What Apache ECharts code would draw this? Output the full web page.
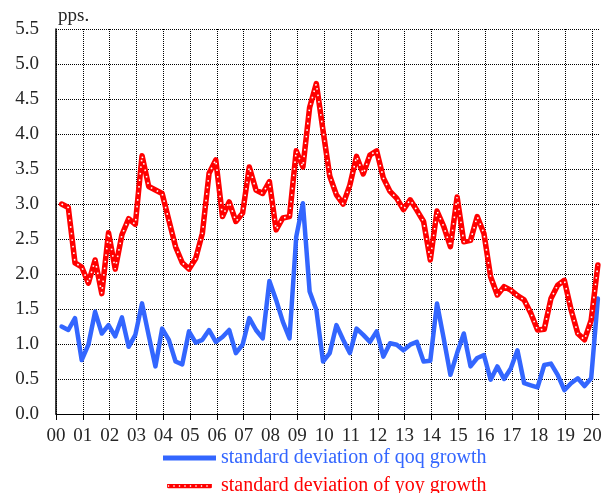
<!DOCTYPE html>
<html>
<head>
<meta charset="utf-8">
<script src="https://cdn.jsdelivr.net/npm/echarts@6/dist/echarts.min.js"></script>
<style>
  html, body { margin: 0; padding: 0; background: #fff; }
  #chart { width: 616px; height: 493px; }
</style>
</head>
<body>
<div id="chart"></div>
<script>
// quarterly data, 2000Q1 .. 2020Q1
const yearLabels = ['00', '01', '02', '03', '04', '05', '06', '07', '08', '09', '10',
  '11', '12', '13', '14', '15', '16', '17', '18', '19', '20']

const qoqStd = [
  1.25, 1.20, 1.37, 0.77, 0.99, 1.46, 1.15, 1.27, 1.11, 1.38, 0.96, 1.13,
  1.58, 1.12, 0.68, 1.22, 1.06, 0.75, 0.71, 1.18, 1.02, 1.06, 1.20, 1.03,
  1.10, 1.20, 0.87, 0.99, 1.37, 1.20, 1.08, 1.90, 1.63, 1.32, 1.08, 2.53,
  3.01, 1.75, 1.49, 0.75, 0.87, 1.27, 1.06, 0.87, 1.22, 1.13, 1.03, 1.18,
  0.82, 1.01, 0.99, 0.91, 0.99, 1.03, 0.75, 0.76, 1.58, 1.08, 0.56, 0.87,
  1.15, 0.68, 0.80, 0.84, 0.49, 0.68, 0.50, 0.65, 0.91, 0.44, 0.41, 0.38,
  0.70, 0.72, 0.56, 0.34, 0.44, 0.51, 0.40, 0.51, 1.65
]

const yoyStd = [
  3.00, 2.95, 2.16, 2.10, 1.87, 2.20, 1.72, 2.59, 2.07, 2.56, 2.79, 2.71,
  3.69, 3.25, 3.20, 3.15, 2.77, 2.39, 2.16, 2.07, 2.22, 2.58, 3.44, 3.63,
  2.82, 3.03, 2.75, 2.87, 3.53, 3.20, 3.15, 3.32, 2.63, 2.80, 2.82, 3.76,
  3.53, 4.38, 4.72, 4.05, 3.40, 3.13, 3.00, 3.27, 3.68, 3.43, 3.70, 3.76,
  3.37, 3.18, 3.08, 2.92, 3.06, 2.91, 2.75, 2.20, 2.90, 2.68, 2.39, 3.10,
  2.46, 2.48, 2.82, 2.58, 1.96, 1.70, 1.82, 1.77, 1.69, 1.63, 1.44, 1.20,
  1.21, 1.65, 1.84, 1.91, 1.49, 1.15, 1.06, 1.34, 2.13
]

const qoqName = 'standard deviation of qoq growth'
const yoyName = 'standard deviation of yoy growth'
const blue = '#3366ff'
const red = '#ff0000'
const font = '"Liberation Serif", "DejaVu Serif", serif'

// x axis counts months from Jan 2000, each quarter sits in its last month
function toPoints(arr) {
  let out = []
  for (let i = 0; i < arr.length; i++) {
    out.push([i * 3 + 2.5, arr[i]])
  }
  return out
}

let yearTicks = []
for (let k = 0; k < yearLabels.length; k++) {
  yearTicks.push(k * 12)
}

const redIconSvg =
  "<svg xmlns='http://www.w3.org/2000/svg' width='54' height='6'>" +
  "<rect x='0' y='0' width='54' height='6' rx='2' fill='#ff0000'/>" +
  "<line x1='1' y1='3' x2='54' y2='3' stroke='#ffffff' stroke-width='1.6' stroke-dasharray='1.6 5'/>" +
  "</svg>"
const redIcon = 'image://data:image/svg+xml;charset=utf-8,' + encodeURIComponent(redIconSvg)

function legendFor(name, icon, color, top) {
  return {
    orient: 'vertical',
    left: 158,
    top: top,
    itemWidth: 53,
    itemHeight: 5,
    textStyle: { fontFamily: font, fontSize: 20, color: color },
    data: [{ name: name, icon: icon }]
  }
}

const chart = echarts.init(document.getElementById('chart'), null, { renderer: 'canvas' })

chart.setOption({
  animation: false,
  backgroundColor: '#fff',
  grid: { left: 56, right: 17, top: 29, bottom: 79, containLabel: false },
  legend: [
    legendFor(qoqName, 'rect', blue, 443),
    legendFor(yoyName, redIcon, red, 471)
  ],
  xAxis: {
    type: 'value',
    min: 0,
    max: 243,
    interval: 12,
    axisLine: { show: true, onZero: false, lineStyle: { color: '#000', width: 1 } },
    axisTick: { show: true, length: 6, customValues: yearTicks, lineStyle: { color: '#000' } },
    axisLabel: {
      customValues: yearTicks,
      margin: 13,
      color: '#262626',
      fontFamily: font,
      fontSize: 19,
      formatter: function(v) {
        return yearLabels[Math.round(v / 12)] || ''
      }
    },
    splitLine: { show: true, lineStyle: { color: '#000', width: 1, type: [1, 1] } }
  },
  yAxis: {
    type: 'value',
    min: 0,
    max: 5.5,
    interval: 0.5,
    name: 'pps.',
    nameLocation: 'end',
    nameGap: 3,
    nameTextStyle: { fontFamily: font, fontSize: 19, color: '#262626', align: 'left', padding: [0, 0, 0, 2] },
    axisLine: { show: true, lineStyle: { color: '#000', width: 1.5 } },
    axisTick: { show: false },
    axisLabel: {
      margin: 17,
      color: '#262626',
      fontFamily: font,
      fontSize: 19,
      formatter: function(v) { return v.toFixed(1) }
    },
    splitLine: { show: true, lineStyle: { color: '#000', width: 1, type: [1, 1] } }
  },
  series: [
    {
      name: qoqName,
      type: 'line',
      data: toPoints(qoqStd),
      symbol: 'none',
      color: blue,
      lineStyle: { color: blue, width: 4.5, join: 'round', cap: 'round' },
      z: 3
    },
    {
      name: yoyName,
      type: 'line',
      data: toPoints(yoyStd),
      symbol: 'none',
      color: red,
      lineStyle: { color: red, width: 5.5, join: 'round', cap: 'round' },
      z: 4
    },
    {
      // white dots on top of the red line
      name: yoyName,
      type: 'line',
      data: toPoints(yoyStd),
      symbol: 'none',
      silent: true,
      color: red,
      lineStyle: { color: '#ffffff', width: 1.6, type: [1.6, 5], cap: 'butt' },
      z: 5
    }
  ]
})
</script>
</body>
</html>
